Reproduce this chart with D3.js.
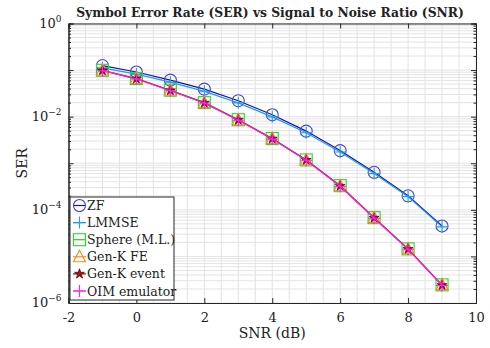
<!DOCTYPE html>
<html>
<head>
<meta charset="utf-8">
<script src="https://cdn.jsdelivr.net/npm/d3@7"></script>
<style>
  body { margin: 0; background: #fff; }
  text { font-family: "DejaVu Serif", "Liberation Serif", serif; fill: #222; }
</style>
</head>
<body>
<div id="chart"></div>
<script>
// data
var snr = [-1, 0, 1, 2, 3, 4, 5, 6, 7, 8, 9];
var serZF = [0.125, 0.091, 0.061, 0.039, 0.022, 0.011, 0.0049, 0.00187, 0.00064, 0.0002, 4.5e-5];
var serLMMSE = [0.112, 0.082, 0.055, 0.035, 0.0198, 0.0099, 0.0045, 0.00175, 0.0006, 0.000192, 4.3e-5];
var serSphere = [0.099, 0.066, 0.037, 0.020, 0.0086, 0.0034, 0.00118, 0.00033, 6.8e-5, 1.45e-5, 2.45e-6];
var serGenKFE = [0.099, 0.066, 0.037, 0.020, 0.0086, 0.0034, 0.00118, 0.00033, 6.8e-5, 1.45e-5, 2.45e-6];
var serGenKEvent = [0.098, 0.065, 0.0365, 0.0198, 0.0085, 0.00335, 0.00117, 0.000325, 6.7e-5, 1.43e-5, 2.4e-6];
var serOIM = [0.097, 0.0645, 0.036, 0.0196, 0.0084, 0.0033, 0.00116, 0.00032, 6.6e-5, 1.42e-5, 2.38e-6];
var xTicks = [-2, 0, 2, 4, 6, 8, 10];
var yTickExp = [0, -2, -4, -6];

var svgWidth = 490;
var svgHeight = 348;
var margin = { top: 23.5, right: 14, bottom: 45, left: 68.5 };
var width = svgWidth - margin.left - margin.right;
var height = svgHeight - margin.top - margin.bottom;

var svg = d3.select("#chart").append("svg")
  .attr("width", svgWidth)
  .attr("height", svgHeight);

svg.append("rect").attr("width", svgWidth).attr("height", svgHeight).attr("fill", "#fff");

var chartGroup = svg.append("g")
  .attr("transform", `translate(${margin.left}, ${margin.top})`);

var xScale = d3.scaleLinear().domain([-2, 10]).range([0, width]);
var yScale = d3.scaleLog().domain([1e-6, 1]).range([height, 0]);

// grid (minor + major)
var xGrid = d3.range(-2, 10.01, 0.5);
var yGrid = [];
for (var e = -6; e < 0; e++) {
  for (var k = 1; k < 10; k++) yGrid.push(k * Math.pow(10, e));
}
yGrid.push(1);

chartGroup.append("g").selectAll("line").data(xGrid).enter().append("line")
  .attr("x1", d => xScale(d)).attr("x2", d => xScale(d))
  .attr("y1", 0).attr("y2", height)
  .attr("stroke", "#e3e3e3").attr("stroke-width", 1);

chartGroup.append("g").selectAll("line").data(yGrid).enter().append("line")
  .attr("x1", 0).attr("x2", width)
  .attr("y1", d => yScale(d)).attr("y2", d => yScale(d))
  .attr("stroke", "#e3e3e3").attr("stroke-width", 1);

// series
var series = [
  { name: "ZF", values: serZF, line: "#1414a0", marker: "#4646cc", shape: "circle" },
  { name: "LMMSE", values: serLMMSE, line: "#1f9bf0", marker: "#1f9bf0", shape: "plus" },
  { name: "Sphere (M.L.)", values: serSphere, line: "#20d020", marker: "#22dd22", shape: "square" },
  { name: "Gen-K FE", values: serGenKFE, line: "#ff8a1c", marker: "#ff8a1c", shape: "triangle" },
  { name: "Gen-K event", values: serGenKEvent, line: "#7a1010", marker: "#7a1010", shape: "star" },
  { name: "OIM emulator", values: serOIM, line: "#ff20ff", marker: "#ff20ff", shape: "plus" }
];

var line = d3.line()
  .x(d => xScale(d[0]))
  .y(d => yScale(d[1]));

function drawMarker(g, shape, color) {
  if (shape === "circle") {
    g.append("circle").attr("r", 6).attr("fill", "none").attr("stroke", color).attr("stroke-width", 1.1);
  } else if (shape === "square") {
    g.append("rect").attr("x", -6).attr("y", -6).attr("width", 12).attr("height", 12)
      .attr("fill", "none").attr("stroke", color).attr("stroke-width", 1.1);
  } else if (shape === "triangle") {
    g.append("path").attr("d", "M0,-6.5L6,5L-6,5Z")
      .attr("fill", "none").attr("stroke", color).attr("stroke-width", 1.1);
  } else if (shape === "star") {
    g.append("path").attr("d", d3.symbol(d3.symbolStar, 30)())
      .attr("fill", "#9a1a1a").attr("stroke", "#5a0a0a").attr("stroke-width", 0.8);
  } else if (shape === "plus") {
    g.append("path").attr("d", "M-6,0L6,0M0,-6L0,6")
      .attr("fill", "none").attr("stroke", color).attr("stroke-width", 1.1);
  }
}

series.forEach(function(s) {
  var pts = snr.map((x, i) => [x, s.values[i]]);
  chartGroup.append("path")
    .datum(pts)
    .attr("fill", "none")
    .attr("stroke", s.line)
    .attr("stroke-width", 1.2)
    .attr("d", line);
  pts.forEach(function(p) {
    var g = chartGroup.append("g")
      .attr("transform", `translate(${xScale(p[0])}, ${yScale(p[1])})`);
    drawMarker(g, s.shape, s.marker);
  });
});

// axes (ticks inside, box on)
var bottomAxis = d3.axisBottom(xScale).tickValues(xTicks).tickSize(-5).tickPadding(10)
  .tickFormat(d => d < 0 ? "-" + Math.abs(d) : d);
var xAxis = chartGroup.append("g")
  .attr("transform", `translate(0, ${height})`)
  .call(bottomAxis);
xAxis.selectAll("text").attr("font-size", 13).style("font-family", "DejaVu Serif");

chartGroup.append("g")
  .call(d3.axisTop(xScale).tickValues(xTicks).tickSize(-5).tickFormat(""));

var decades = d3.range(-6, 1).map(e => Math.pow(10, e));
var minors = yGrid.filter(v => !decades.some(dv => Math.abs(dv - v) / dv < 1e-9));

chartGroup.append("g").call(d3.axisLeft(yScale).tickValues(decades).tickSize(-5).tickFormat(""));
chartGroup.append("g").call(d3.axisLeft(yScale).tickValues(minors).tickSize(-2.5).tickFormat(""));
chartGroup.append("g").attr("transform", `translate(${width}, 0)`)
  .call(d3.axisRight(yScale).tickValues(decades).tickSize(-5).tickFormat(""));
chartGroup.append("g").attr("transform", `translate(${width}, 0)`)
  .call(d3.axisRight(yScale).tickValues(minors).tickSize(-2.5).tickFormat(""));

chartGroup.selectAll(".domain").attr("stroke", "#262626").attr("stroke-width", 1);
chartGroup.selectAll(".tick line").attr("stroke", "#262626");

// y tick labels with superscripts
yTickExp.forEach(function(e) {
  var t = chartGroup.append("text")
    .attr("x", -7)
    .attr("y", yScale(Math.pow(10, e)) + 4)
    .attr("text-anchor", "end")
    .attr("font-size", 13);
  t.append("tspan").text("10");
  t.append("tspan").attr("dy", -6).attr("font-size", 9).text(e === 0 ? "0" : "\u2212" + Math.abs(e));
});

// legend
var legend = chartGroup.append("g")
  .attr("transform", `translate(${xScale(-2) + 1.5}, ${yScale(1e-6) - 106})`);
legend.append("rect")
  .attr("width", 104).attr("height", 103)
  .attr("fill", "#fff").attr("stroke", "#262626").attr("stroke-width", 1);
series.forEach(function(s, i) {
  var yy = 8.5 + i * 17.1;
  legend.append("line").attr("x1", 3).attr("x2", 16).attr("y1", yy).attr("y2", yy)
    .attr("stroke", s.line).attr("stroke-width", 1.2);
  var g = legend.append("g").attr("transform", `translate(9.5, ${yy})`);
  drawMarker(g, s.shape, s.marker);
  legend.append("text").attr("x", 17).attr("y", yy + 4.5)
    .attr("font-size", 12.5).text(s.name);
});

// titles
svg.append("text")
  .attr("x", 270).attr("y", 17)
  .attr("text-anchor", "middle")
  .attr("font-size", 12.3).attr("font-weight", "bold")
  .text("Symbol Error Rate (SER) vs Signal to Noise Ratio (SNR)");

svg.append("text")
  .attr("x", margin.left + width / 2).attr("y", 338)
  .attr("text-anchor", "middle")
  .attr("font-size", 14)
  .text("SNR (dB)");

svg.append("text")
  .attr("transform", `translate(27, ${margin.top + height / 2}) rotate(-90)`)
  .attr("text-anchor", "middle")
  .attr("font-size", 14)
  .text("SER");
</script>
</body>
</html>
